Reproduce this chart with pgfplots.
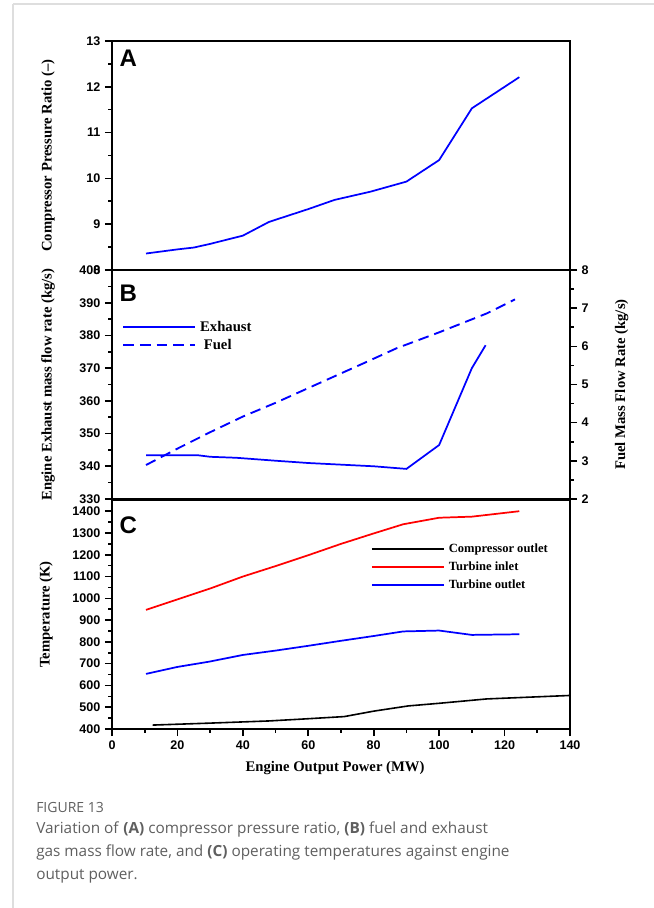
\documentclass[border=0pt]{standalone}
\usepackage{pgfplots}
\pgfplotsset{compat=1.18}
\usepackage{fontspec}
\setmainfont{Liberation Serif}
\newfontfamily\arial{Liberation Sans}
\newfontfamily\capfont{Open Sans}
\definecolor{capgray}{RGB}{95,95,95}
\definecolor{framegray}{RGB}{222,222,222}

\pgfplotsset{
  base/.style={
    scale only axis, width=343.5pt, xmin=0, xmax=140,
    anchor=south west,
    axis line style={line width=1.8pt},
    every tick/.style={line width=1.2pt, black},
    major tick length=5.25pt, minor tick length=2.8pt,
    tick align=outside,
    ticklabel style={font=\arial\bfseries\fontsize{9.4}{10}\selectfont},
    /pgf/number format/assume math mode=true,
    /pgf/number format/1000 sep={},
    label style={font=\bfseries\fontsize{11}{12}\selectfont},
  },
}

\begin{document}
\begin{tikzpicture}
\path[use as bounding box] (0,0) rectangle (490.5pt,681pt);
\draw[framegray, line width=1.2pt] (9.75pt,678pt) -- (490.5pt,678pt);
\draw[framegray, line width=1.2pt] (9.75pt,678pt) -- (9.75pt,0pt);

% Panel A
\begin{axis}[base, at={(84pt,478.5pt)}, height=171.75pt,
  ymin=8, ymax=13, ytick={8,9,...,13}, minor y tick num=1,
  xtick=\empty, ytick pos=left,
  ylabel={Compressor Pressure Ratio (--)},
  ylabel style={at={(axis description cs:-0.1397,0.5)}, anchor=center},
]
\addplot[blue, no marks, line width=1.3pt] coordinates {
(10.4,8.36) (20,8.45) (25,8.49) (30,8.57) (40,8.75) (48,9.05) (60,9.33)
(68,9.53) (79,9.71) (90,9.93) (100,10.40) (110,11.53) (124.5,12.21)};
\node[font=\arial\bfseries\fontsize{18}{18}\selectfont, anchor=base west, inner sep=0pt]
  at (axis description cs:0.016,0.888) {A};
\end{axis}

% Panel B left
\begin{axis}[base, at={(84pt,306.75pt)}, height=171.75pt,
  ymin=330, ymax=400, ytick={330,340,...,400}, minor y tick num=1,
  xtick=\empty, ytick pos=left,
  ylabel={Engine Exhaust mass flow rate (kg/s)},
  ylabel style={at={(axis description cs:-0.1397,0.5)}, anchor=center},
]
\addplot[blue, no marks, line width=1.3pt] coordinates {
(10.4,343.4) (20,343.4) (26,343.4) (30,342.9) (38,342.6) (50,341.7) (60,341.0)
(70,340.5) (80,340.0) (90,339.2) (100,346.5) (110,370.0) (114.2,377.0)};
\node[font=\arial\bfseries\fontsize{18}{18}\selectfont, anchor=base west, inner sep=0pt]
  at (axis description cs:0.016,0.862) {B};
\end{axis}

% Panel B right
\begin{axis}[base, at={(84pt,306.75pt)}, height=171.75pt,
  axis y line*=right, axis x line=none,
  ymin=2, ymax=8, ytick={2,...,8}, minor y tick num=1,
  ylabel={Fuel Mass Flow Rate (kg/s)},
  ylabel style={at={(axis description cs:1.113,0.5)}, anchor=center},
  legend style={at={(axis description cs:0.022,0.790)}, anchor=north west,
    draw=none, fill=none, inner sep=0pt,
    font=\bfseries\fontsize{11}{12}\selectfont,
    nodes={inner xsep=3pt, inner ysep=1.5pt, text height=8pt, text depth=2.5pt}},
  legend cell align=left,
  legend image code/.code={\draw[#1] (0pt,0pt) -- (54pt,0pt);},
]
\addlegendimage{blue, line width=1.3pt}
\addlegendentry{Exhaust}
\addplot[blue, no marks, line width=1.4pt, dash pattern=on 8pt off 4.5pt] coordinates {
(10.4,2.89) (20,3.32) (30,3.75) (40,4.16) (50,4.52) (57.5,4.81) (66.6,5.16)
(77,5.56) (87,5.95) (99.8,6.36) (114.5,6.86) (123.2,7.23)};
\addlegendentry{\ Fuel}
\end{axis}

% Panel C
\begin{axis}[base, at={(84pt,134.25pt)}, height=172pt,
  ymin=400, ymax=1453, ytick={400,500,...,1400}, minor y tick num=1,
  xtick={0,20,...,140}, minor x tick num=1, xtick pos=bottom, ytick pos=left,
  ylabel={Temperature (K)},
  ylabel style={at={(axis description cs:-0.144,0.5)}, anchor=center},
  xlabel={Engine Output Power (MW)},
  xlabel style={at={(axis description cs:0.487,-0.172)}, anchor=center},
  legend style={at={(axis description cs:0.565,0.827)}, anchor=north west,
    draw=none, fill=none, inner sep=0pt,
    font=\bfseries\fontsize{9.4}{11}\selectfont,
    nodes={inner xsep=3pt, inner ysep=1.5pt, text height=8pt, text depth=2.5pt}},
  legend cell align=left,
  legend image code/.code={\draw[#1, line width=1.4pt] (0pt,0pt) -- (54pt,0pt);},
]
\addplot[black, no marks, line width=1.2pt] coordinates {
(12.4,418) (30,427) (48,437) (57.5,445) (71,457) (80,482) (90.6,506)
(100,518) (114.5,538) (140,554)};
\addlegendentry{Compressor outlet}
\addplot[red, no marks, line width=1.3pt] coordinates {
(10.4,947) (20,995) (30,1045) (40,1100) (50,1148) (60,1198) (70,1250)
(80,1298) (89,1340) (100,1370) (110,1375) (124.5,1400)};
\addlegendentry{Turbine inlet}
\addplot[blue, no marks, line width=1.3pt] coordinates {
(10.4,653) (20,685) (30,710) (40,740) (50,760) (60,782) (70,805)
(80,827) (89,848) (100,852) (110,832) (124.5,835)};
\addlegendentry{Turbine outlet}
\node[font=\arial\bfseries\fontsize{18}{18}\selectfont, anchor=base west, inner sep=0pt]
  at (axis description cs:0.016,0.853) {C};
\end{axis}

% Caption
\begin{scope}[every node/.style={anchor=base west, inner sep=0pt, text=capgray}]
\node[font=\capfont\fontsize{10.5}{12}\selectfont] at (27pt,71.5pt) {FIGURE 13};
\node[font=\capfont\fontsize{11.5}{14}\selectfont] at (27pt,55.5pt)
  {Variation of \textbf{(A)} compressor pressure ratio, \textbf{(B)} fuel and exhaust};
\node[font=\capfont\fontsize{11.5}{14}\selectfont] at (27pt,38.25pt)
  {gas mass flow rate, and \textbf{(C)} operating temperatures against engine};
\node[font=\capfont\fontsize{11.5}{14}\selectfont] at (27pt,21pt)
  {output power.};
\end{scope}
\end{tikzpicture}
\end{document}
